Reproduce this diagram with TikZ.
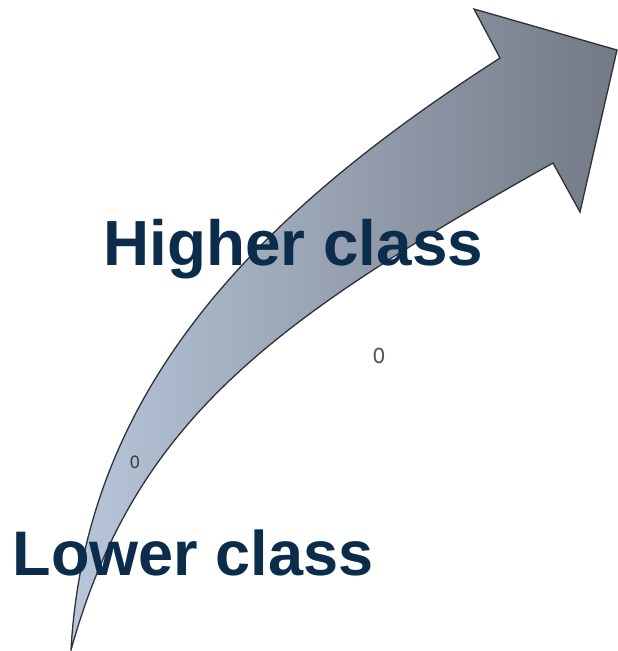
\documentclass[tikz,border=0pt]{standalone}
\usepackage{fontspec}
\setmainfont{Liberation Sans}
\definecolor{navy}{HTML}{0B2D4B}
\definecolor{shaftL}{HTML}{B8C6DA}
\definecolor{shaftM}{HTML}{A0AFC6}
\definecolor{shaftR}{HTML}{737985}
\definecolor{edge}{HTML}{2E3236}
\tikzset{
  arrowbody/.style={draw=edge, line width=1.3pt, line join=miter,
    left color=shaftL, middle color=shaftM, right color=shaftR},
  biglabel/.style={anchor=base west, inner sep=0pt, text=navy,
    font=\bfseries\fontsize{63.8}{64}\selectfont},
  bullet/.style={inner sep=0pt, text=black!65, yscale=1.3}
}
\begin{document}
\begin{tikzpicture}[x=1pt,y=-1pt]
\useasboundingbox (0,0) rectangle (618,651);
\path[arrowbody]
  (71,650) .. controls (86,380) and (270,206) .. (500,58)
  -- (474,9) -- (617,50) -- (580,212) -- (553,163)
  .. controls (273,320) and (135,420) .. (71,650)
  -- cycle;
\node[biglabel] (higher) at (103.5,265) {Higher class};
\node[biglabel, font=\bfseries\fontsize{63}{63}\selectfont] (lower) at (12.5,575) {Lower class};
\node[bullet, font=\fontsize{22}{22}\selectfont] (o1) at (379,356) {o};
\node[bullet, font=\fontsize{18}{18}\selectfont, text=black!75] (o2) at (135,462) {o};
\end{tikzpicture}
\end{document}
